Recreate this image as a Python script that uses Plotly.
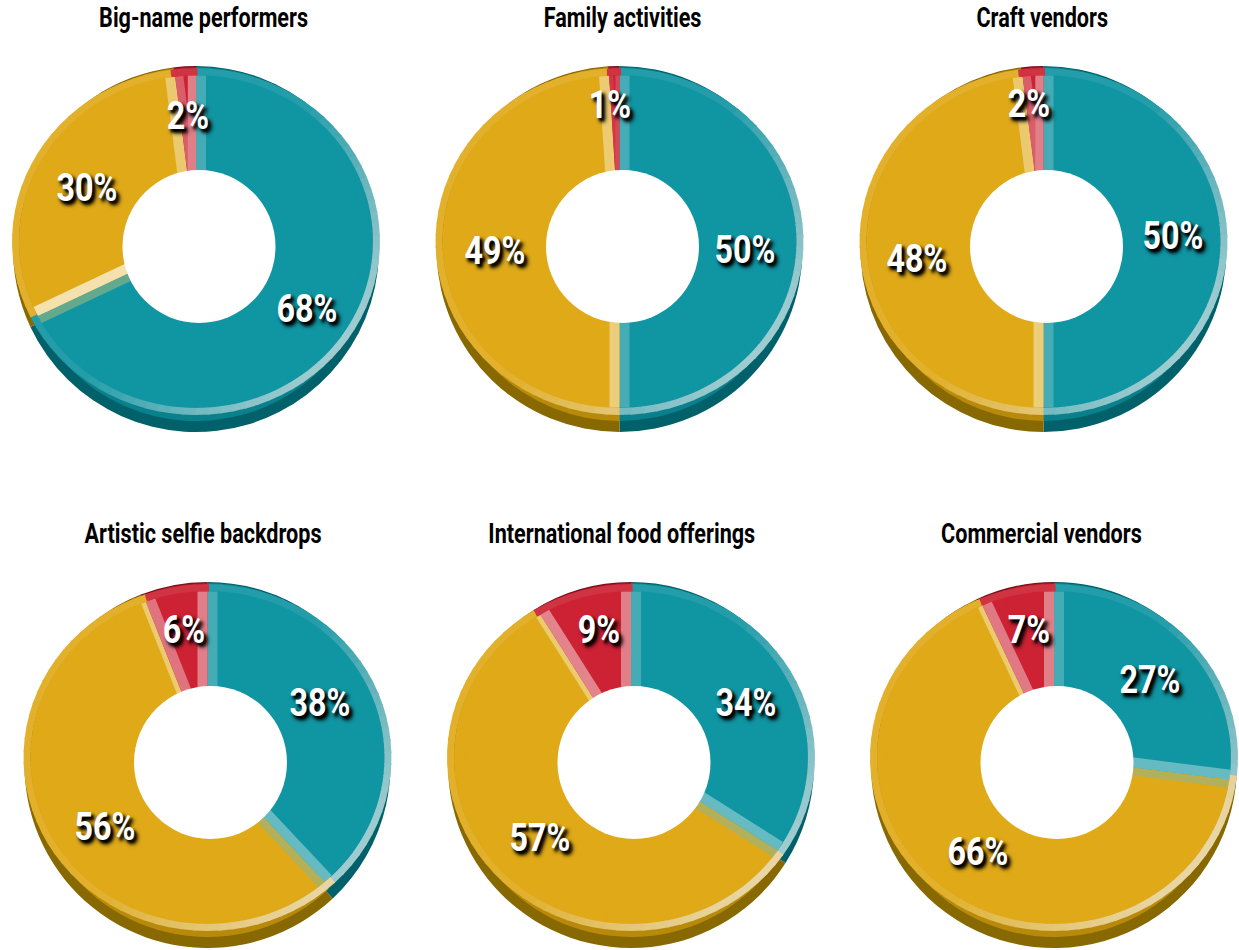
import math
import plotly.graph_objects as go

titles = ["Big-name performers", "Family activities", "Craft vendors",
          "Artistic selfie backdrops", "International food offerings", "Commercial vendors"]
teal_values = [68, 50, 50, 38, 34, 27]
gold_values = [30, 49, 48, 56, 57, 66]
red_values = [2, 1, 2, 6, 9, 7]

W, H = 1239, 950
centers_x = [196, 619.5, 1043.5, 207.5, 631, 1054]
row_dy = [0, 0, 0, 516, 516, 516]
title_x = [203, 622.5, 1042, 203, 622, 1041]
# small hand placement of each chart's three percentage labels (dx, dy in pixels)
label_nudge = [
    [(0, -6), (0, 3), (-3, -3)],
    [(-5, 4), (0, 0), (-8, -14)],
    [(-2, -11), (-2, 4), (-9, -15)],
    [(-10, -12), (3, -4), (-3, -7)],
    [(0, 2), (-3, -15), (1, -10)],
    [(-3, 2), (-4, -14), (0, -8)],
]

FLAT = [(16, 149, 162), (223, 169, 24), (204, 34, 51)]
MID = [(10, 128, 140), (184, 138, 12), (168, 24, 40)]
DARK = [(0, 97, 106), (136, 104, 0), (122, 15, 28)]
CAP = [0.36, 0.65, 0.55]
FONT = "Roboto, sans-serif"


def css(c):
    return "rgb(%d,%d,%d)" % tuple(round(v) for v in c)


def tint(c, t):
    if t >= 0:
        return tuple(v + (255 - v) * t for v in c)
    return tuple(v * (1 + t) for v in c)


def mix(a, b, t):
    return tuple(x + (y - x) * t for x, y in zip(a, b))


def px(x):
    return x / W


def py(y):
    return 1 - y / H


def pie(vals, colors, cx, cy, r, hole):
    return go.Pie(values=vals, marker=dict(colors=[css(c) for c in colors], line=dict(width=0)),
                  domain=dict(x=[px(cx - r), px(cx + r)], y=[py(cy + r), py(cy - r)]),
                  sort=False, direction="clockwise", rotation=0, hole=hole,
                  textinfo="none", showlegend=False, hoverinfo="percent")


def seg(x0, y0, x1, y1, color, w):
    return dict(type="line", xref="paper", yref="paper", x0=px(x0), y0=py(y0), x1=px(x1), y1=py(y1),
                line=dict(color=css(color), width=w), layer="above")


fig = go.Figure()
shapes = []
annotations = []

for i, title in enumerate(titles):
    vals = [teal_values[i], gold_values[i], red_values[i]]
    total = sum(vals)
    cx = centers_x[i]
    dy = row_dy[i]
    fy = 241.5 + dy          # flat face centre
    hx, hy, hr = cx + 3, 246.5 + dy, 76.5  # hole

    # stacked discs give the extruded side, then the face
    fig.add_trace(pie(vals, DARK, cx, 249 + dy, 183, 0.3))
    fig.add_trace(pie(vals, MID, cx, 244 + dy, 177, 0.3))
    fig.add_trace(pie(vals, FLAT, cx, fy, 168, 0.3))

    # slice edges in degrees, clockwise from the top
    edges = []
    acc = 0
    for v in vals:
        edges.append((acc / total * 360, (acc + v) / total * 360))
        acc += v

    def slice_of(a):
        for k, (s, e) in enumerate(edges):
            if s <= a < e:
                return k
        return 2

    # extend the flat face out to an ellipse
    step = 4
    for k in range(0, 360, step):
        a0, a1 = math.radians(k), math.radians(k + step + 0.5)
        idx = slice_of(k + step / 2)
        shapes.append(seg(cx + 172 * math.sin(a0), fy - 162 * math.cos(a0),
                          cx + 172 * math.sin(a1), fy - 162 * math.cos(a1), FLAT[idx], 10))

    def ell_r(a, rx=177, ry=166):
        return 1 / math.sqrt((math.sin(a) / rx) ** 2 + (math.cos(a) / ry) ** 2)

    # bevels either side of each seam, drawn inside their slice
    for k, (s, e) in enumerate(edges):
        arc_w = (e - s) / 360 * 2 * math.pi * 130
        for ang, side, other in ((s, 1, (k - 1) % 3), (e, -1, (k + 1) % 3)):
            a = math.radians(ang)
            d = (math.sin(a), -math.cos(a))
            # normal pointing out of the slice, towards the seam
            n = (-side * math.cos(a), -side * math.sin(a))
            b = n[0] * 0.25 + n[1] * 0.97
            t = min(CAP[k], 0.32 + 0.4 * b)
            if vals[k] < 2:
                t *= 0.4
            base = FLAT[k]
            w = 10
            if b < -0.45:       # facing away from the light: muddy, picks up its neighbour
                base = mix(FLAT[k], FLAT[other], 0.28)
                t = 0.14
                w = 8
            if k == 1 and side == -1 and vals[2] >= 5:   # gold's edge against a wide red slice is thin
                w = 5
                t = 0.38
            w = min(w, arc_w * 0.5)
            ox, oy = cx - n[0] * w / 2, fy - n[1] * w / 2
            r1 = ell_r(a)
            shapes.append(seg(ox + d[0] * 60, oy + d[1] * 60, ox + d[0] * r1, oy + d[1] * r1,
                              tint(base, t), w))

    # lit rim
    for k in range(0, 360, step):
        a0, a1 = math.radians(k), math.radians(k + step + 0.5)
        mid = math.radians(k + step / 2)
        idx = slice_of(k + step / 2)
        b = max(0, math.sin(mid) * 0.8 - math.cos(mid) * 0.6)
        t = 0.08 + 0.48 * b
        c = tint(FLAT[idx], t)
        grey = sum(c) / 3
        c = mix(c, (grey, grey, grey), 0.22 * b)
        shapes.append(seg(cx + 180.5 * math.sin(a0), fy - 170 * math.cos(a0),
                          cx + 180.5 * math.sin(a1), fy - 170 * math.cos(a1), c, 7))

    # centre opening
    shapes.append(dict(type="circle", xref="paper", yref="paper", layer="above",
                       x0=px(hx - hr), x1=px(hx + hr), y0=py(hy + hr), y1=py(hy - hr),
                       fillcolor="white", line=dict(width=0)))

    # labels
    for k, (s, e) in enumerate(edges):
        m = math.radians((s + e) / 2)
        nx, ny = label_nudge[i][k]
        annotations.append(dict(xref="paper", yref="paper", x=px(hx + 128 * math.sin(m) + nx),
                                y=py(hy - 128 * math.cos(m) + ny), text="%d%%" % vals[k],
                                showarrow=False, xanchor="center", yanchor="middle",
                                font=dict(family=FONT, size=38, color="white", weight=700,
                                          shadow="4px 4px 5px #000000, 3px 3px 3px #000000")))
    annotations.append(dict(xref="paper", yref="paper", x=px(title_x[i]), y=py(18 + dy),
                            text=title, showarrow=False,
                            xanchor="center", yanchor="middle",
                            font=dict(family=FONT, size=27, color="black", weight=700)))

fig.update_layout(width=W, height=H, margin=dict(l=0, r=0, t=0, b=0), autosize=False,
                  paper_bgcolor="white", plot_bgcolor="white", shapes=shapes, annotations=annotations)

# the reference face is a condensed bold: narrow the installed one to the same widths
post = """
document.body.style.margin = '0';
document.querySelectorAll('.annotation-text').forEach(function (t) {
  var len = t.getComputedTextLength();
  var ratio = t.textContent.indexOf('%') >= 0 ? 0.85 : 0.80;
  t.setAttribute('textLength', len * ratio);
  t.setAttribute('lengthAdjust', 'spacingAndGlyphs');
});
"""
fig.write_html("out.html", config=dict(displayModeBar=False), post_script=post)
